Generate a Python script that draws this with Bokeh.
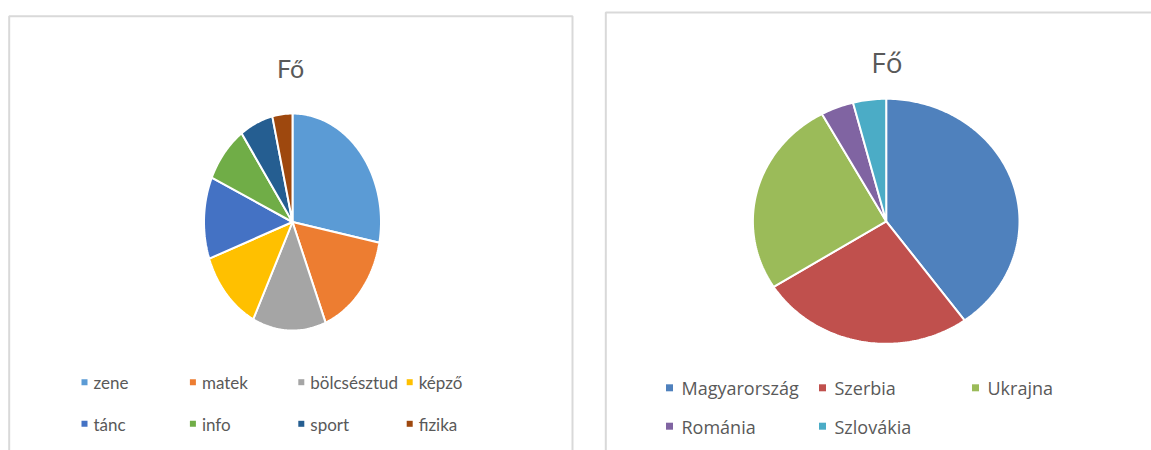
import numpy as np
from bokeh.plotting import figure
from bokeh.models import Range1d, ColumnDataSource
from bokeh.core.properties import value
from bokeh.embed import file_html
from bokeh.resources import INLINE

# ---- data ----
left_title = "Fő"
left_categories = ["zene", "matek", "bölcsésztud", "képző", "tánc", "info", "sport", "fizika"]
left_values = [23, 13, 11, 10, 10, 7, 5, 3]
left_colors = ["#5B9BD5", "#ED7D31", "#A5A5A5", "#FFC000", "#4472C4", "#70AD47", "#255E91", "#9E480E"]

right_title = "Fő"
right_categories = ["Magyarország", "Szerbia", "Ukrajna", "Románia", "Szlovákia"]
right_values = [20, 13, 13, 2, 2]
right_colors = ["#4F81BD", "#C0504D", "#9BBB59", "#8064A2", "#4BACC6"]

TEXT = "#595959"
BORDER = "#D9D9D9"

W, H = 1151, 450
p = figure(width=W, height=H, x_range=Range1d(0, W), y_range=Range1d(H, 0),
           output_backend="svg", toolbar_location=None, x_axis_type=None, y_axis_type=None,
           min_border=0, outline_line_color=None)
p.grid.visible = False
p.background_fill_color = "white"
p.border_fill_color = "white"

# panel frames
p.quad(left=[8.7, 605.3], right=[572, 1170], top=[15.7, 12], bottom=[470, 470],
       fill_color=None, line_color=BORDER, line_width=2)


def pie(values, colors, cx, cy, rx, ry):
    vals = np.asarray(values, dtype=float)
    frac = vals / vals.sum()
    ends = np.cumsum(frac) * 2 * np.pi
    starts = ends - frac * 2 * np.pi
    xs, ys = [], []
    for a0, a1 in zip(starts, ends):
        n = max(3, int(np.degrees(a1 - a0)) + 2)
        t = np.linspace(a0, a1, n)
        xs.append(np.concatenate([[cx], cx + rx * np.sin(t)]).tolist())
        ys.append(np.concatenate([[cy], cy - ry * np.cos(t)]).tolist())
    src = ColumnDataSource(dict(xs=xs, ys=ys, color=colors))
    p.patches("xs", "ys", source=src, fill_color="color", line_color="white", line_width=2)


pie(left_values, left_colors, 292, 221.5, 88.5, 108.5)
pie(right_values, right_colors, 885.7, 220.8, 133.3, 122.5)

# titles
p.text(x=[290], y=[67], text=[left_title], text_font=value("Lato"), text_font_size="25px",
       text_color=TEXT, text_align="center", text_baseline="alphabetic")
p.text(x=[886.5], y=[61.7], text=[right_title], text_font=value("Open Sans"), text_font_size="28px",
       text_color=TEXT, text_align="center", text_baseline="alphabetic")

# left legend (4 columns)
lx = [84 + 108.4 * (i % 4) for i in range(len(left_categories))]
ly = [381.7 if i < 4 else 423.3 for i in range(len(left_categories))]
p.scatter(x=lx, y=ly, marker="square", size=6, fill_color=left_colors, line_color=None)
p.text(x=[v + 9 for v in lx], y=[v + 0.5 for v in ly], text=left_categories, text_font=value("Lato"),
       text_font_size="17px", text_color=TEXT, text_align="left", text_baseline="middle")

# right legend (3 columns)
rx_ = [669 + 153 * (i % 3) for i in range(len(right_categories))]
ry_ = [387.3 if i < 3 else 425.7 for i in range(len(right_categories))]
p.scatter(x=rx_, y=ry_, marker="square", size=7, fill_color=right_colors, line_color=None)
p.text(x=[v + 12 for v in rx_], y=[v + 0.5 for v in ry_], text=right_categories, text_font=value("Open Sans"),
       text_font_size="18px", text_color=TEXT, text_align="left", text_baseline="middle")

open("out.html", "w").write(file_html(p, INLINE))
